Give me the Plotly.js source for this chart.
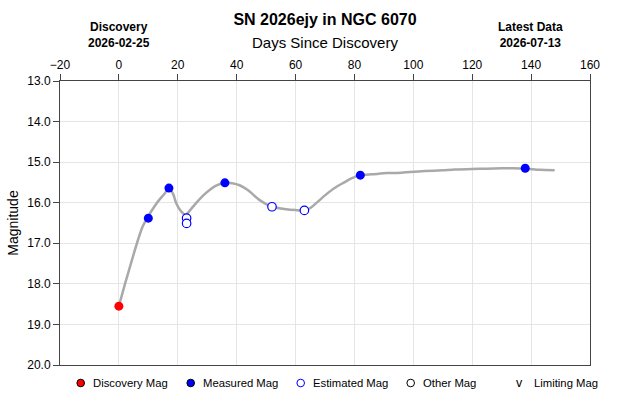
<!DOCTYPE html>
<html>
<head>
<meta charset="utf-8">
<script src="https://cdn.plot.ly/plotly-3.0.1.min.js"></script>
<style>
  html, body { margin: 0; padding: 0; background: #fff; }
  #chart { width: 630px; height: 405px; }
</style>
</head>
<body>
<div id="chart"></div>
<script>
// Light curve of SN 2026ejy: days since discovery vs. magnitude
const discoveryDays = [0];
const discoveryMags = [18.55];

const measuredDays = [10, 17, 36, 82, 138];
const measuredMags = [16.38, 15.64, 15.51, 15.32, 15.15];

const estimatedDays = [23, 23, 52, 63];
const estimatedMags = [16.38, 16.51, 16.10, 16.19];

// Smoothed trend through the observations
const curveDays = [0, 2, 4, 6, 8, 9.6, 12, 13.7, 15.5, 17, 18.5, 19.4, 21, 22.7, 24, 26.2, 28.5, 30.7, 33, 36, 38.5, 41, 44, 47.7, 52, 56.8, 60, 63, 65, 67, 70, 73, 76, 79, 82, 86, 91, 96, 104, 110, 114, 120, 125, 130, 134, 138, 143, 148];
const curveMags = [18.55, 18.02, 17.52, 17.03, 16.6, 16.38, 16.1, 15.93, 15.78, 15.64, 15.8, 16.0, 16.2, 16.3, 16.2, 16.01, 15.83, 15.69, 15.58, 15.51, 15.52, 15.57, 15.7, 15.93, 16.1, 16.16, 16.18, 16.19, 16.13, 16.01, 15.82, 15.65, 15.52, 15.4, 15.32, 15.3, 15.27, 15.26, 15.22, 15.2, 15.18, 15.17, 15.16, 15.15, 15.15, 15.16, 15.19, 15.2];

const xTicks = [-20, 0, 20, 40, 60, 80, 100, 120, 140, 160];
const yTicks = [13, 14, 15, 16, 17, 18, 19, 20];

const titleText = 'SN 2026ejy in NGC 6070';
const discoveryDate = '2026-02-25';
const latestDate = '2026-07-13';
const latestDay = 138;

const legendItems = [
  { label: 'Discovery Mag', kind: 'dot', fill: '#ff0000', line: '#000000' },
  { label: 'Measured Mag', kind: 'dot', fill: '#0000ff', line: '#000000' },
  { label: 'Estimated Mag', kind: 'dot', fill: 'rgba(0,0,0,0)', line: '#0000ff' },
  { label: 'Other Mag', kind: 'dot', fill: 'rgba(0,0,0,0)', line: '#000000' },
  { label: 'Limiting Mag', kind: 'v' }
];

const FONT = 'Liberation Sans, Arial, Helvetica, sans-serif';

const traces = [
  {
    x: curveDays, y: curveMags, type: 'scatter', mode: 'lines',
    line: { color: '#a9a9a9', width: 2.5, shape: 'spline', smoothing: 0.6 },
    hoverinfo: 'skip', showlegend: false
  },
  {
    x: discoveryDays, y: discoveryMags, type: 'scatter', mode: 'markers',
    marker: { color: '#ff0000', size: 9, line: { width: 0 } }, showlegend: false
  },
  {
    x: measuredDays, y: measuredMags, type: 'scatter', mode: 'markers',
    marker: { color: '#0000ff', size: 9, line: { width: 0 } }, showlegend: false
  },
  {
    x: estimatedDays, y: estimatedMags, type: 'scatter', mode: 'markers',
    marker: { color: '#ffffff', size: 8.5, line: { color: '#0000ff', width: 1.2 } }, showlegend: false
  }
];

// Plot area geometry (pixels)
const W = 630, H = 405, ML = 60, MR = 40, MT = 81, MB = 40;
const PW = W - ML - MR, PH = H - MT - MB;
const px2paperX = p => (p - ML) / PW;
const px2paperY = p => 1 + (MT - p) / PH;

const annotations = [
  {
    text: 'Days Since Discovery', xref: 'paper', yref: 'paper',
    x: 0.5, y: px2paperY(42), xanchor: 'center', yanchor: 'middle', showarrow: false,
    font: { family: FONT, size: 15, color: '#000' }
  },
  {
    text: '<b>Discovery</b><br><b>' + discoveryDate + '</b>', xref: 'x', yref: 'paper',
    x: discoveryDays[0], y: px2paperY(35), xanchor: 'center', yanchor: 'middle', showarrow: false,
    font: { family: FONT, size: 12, color: '#000' }
  },
  {
    text: '<b>Latest Data</b><br><b>' + latestDate + '</b>', xref: 'x', yref: 'paper',
    x: latestDay, xshift: 5, y: px2paperY(35), xanchor: 'center', yanchor: 'middle', showarrow: false,
    font: { family: FONT, size: 12, color: '#000' }
  }
];

const shapes = [];
const legendY = 383;
const legendStart = 80.7, legendStep = 110;
legendItems.forEach((item, i) => {
  const cx = legendStart + i * legendStep;
  if (item.kind === 'dot') {
    shapes.push({
      type: 'circle', xref: 'paper', yref: 'paper',
      xsizemode: 'pixel', ysizemode: 'pixel',
      xanchor: px2paperX(cx), yanchor: px2paperY(legendY),
      x0: -3.8, x1: 3.8, y0: -3.8, y1: 3.8,
      fillcolor: item.fill, line: { color: item.line, width: 1 }
    });
    annotations.push({
      text: item.label, xref: 'paper', yref: 'paper',
      x: px2paperX(cx + 10.5), y: px2paperY(legendY), xanchor: 'left', yanchor: 'middle',
      showarrow: false, font: { family: FONT, size: 11.3, color: '#000' }
    });
  } else {
    annotations.push({
      text: 'v', xref: 'paper', yref: 'paper',
      x: px2paperX(cx - 1), y: px2paperY(legendY), xanchor: 'center', yanchor: 'middle',
      showarrow: false, font: { family: FONT, size: 12.5, color: '#000' }
    });
    annotations.push({
      text: item.label, xref: 'paper', yref: 'paper',
      x: px2paperX(cx + 11.5), y: px2paperY(legendY), xanchor: 'left', yanchor: 'middle',
      showarrow: false, font: { family: FONT, size: 11.3, color: '#000' }
    });
  }
});

const layout = {
  width: W, height: H,
  margin: { l: ML, r: MR, t: MT, b: MB, pad: 0 },
  paper_bgcolor: '#ffffff', plot_bgcolor: '#ffffff',
  showlegend: false,
  font: { family: FONT, size: 12, color: '#000' },
  title: {
    text: '<b>' + titleText + '</b>',
    x: 325 / W, xanchor: 'center', xref: 'container',
    y: 1 - 19 / H, yanchor: 'middle', yref: 'container',
    font: { family: FONT, size: 16, color: '#000' }
  },
  xaxis: {
    side: 'top', range: [-20, 160], tickvals: xTicks,
    ticks: 'outside', ticklen: 6, tickcolor: '#444', tickwidth: 1,
    showline: true, linecolor: '#444', linewidth: 1, mirror: true,
    showgrid: true, gridcolor: '#e5e5e5', gridwidth: 1, zeroline: false,
    tickfont: { family: FONT, size: 12, color: '#000' }
  },
  yaxis: {
    range: [20, 13], tickvals: yTicks, tickformat: '.1f',
    ticks: 'outside', ticklen: 6, tickcolor: '#444', tickwidth: 1,
    showline: true, linecolor: '#444', linewidth: 1, mirror: true,
    showgrid: true, gridcolor: '#e5e5e5', gridwidth: 1, zeroline: false,
    tickfont: { family: FONT, size: 12, color: '#000' },
    title: { text: 'Magnitude', standoff: 5, font: { family: FONT, size: 14, color: '#000' } }
  },
  annotations: annotations,
  shapes: shapes
};

Plotly.newPlot('chart', traces, layout, { displayModeBar: false, staticPlot: true });
</script>
</body>
</html>
